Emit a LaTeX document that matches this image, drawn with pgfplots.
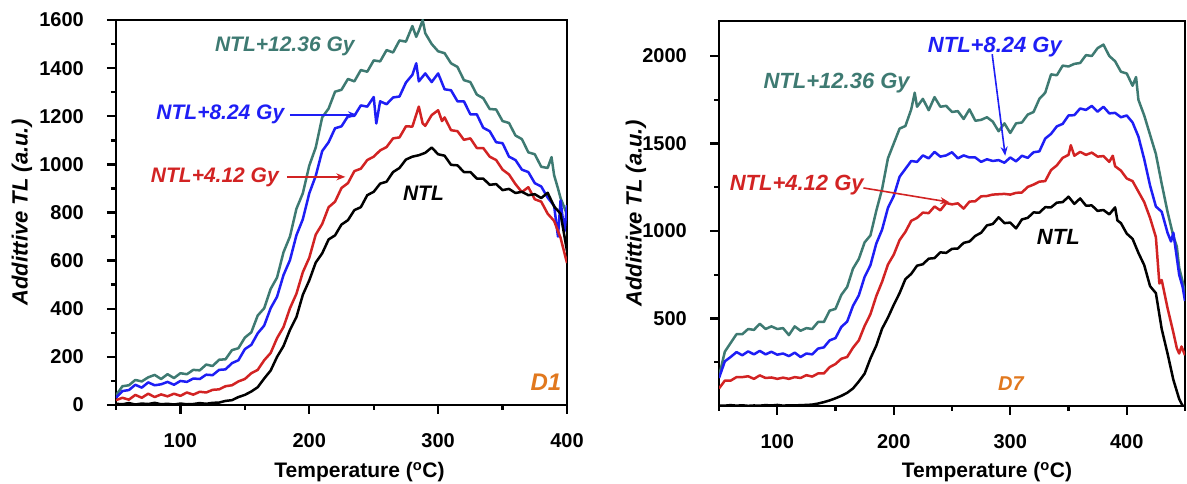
\documentclass[border=0pt]{standalone}
\usepackage{fontspec}
\setmainfont{Liberation Sans}
\usepackage{pgfplots}
\pgfplotsset{compat=1.18}
\usetikzlibrary{arrows.meta}
\definecolor{cteal}{RGB}{62,122,114}
\definecolor{cblue}{RGB}{30,30,245}
\definecolor{cred}{RGB}{210,35,35}
\definecolor{corange}{RGB}{225,120,30}
\tikzset{lab/.style={font=\fontsize{21}{24}\selectfont\bfseries\itshape, anchor=center}}
\pgfplotsset{tlaxis/.style={
  scale only axis, clip=true,
  axis line style={line width=2.8pt},
  tick align=outside, xtick pos=left, ytick pos=left,
  major tick length=9pt, minor tick length=5pt,
  every tick/.style={black, line width=2.4pt},
  tick label style={font=\fontsize{20}{24}\selectfont\bfseries},
  /pgf/number format/assume math mode=true,
  /pgf/number format/set thousands separator={},
  xticklabel style={anchor=center, inner sep=0pt, yshift=-27pt},
  yticklabel style={anchor=east, inner sep=0pt, xshift=-23pt},
  xlabel style={font=\fontsize{21}{24}\selectfont\bfseries, anchor=center},
  ylabel style={font=\fontsize{22}{26}\selectfont\bfseries\itshape, anchor=center},
  every axis plot/.append style={line width=2.5pt, no markers, line join=round},
}}
\begin{document}
\begin{tikzpicture}[x=1pt,y=1pt]
\path[use as bounding box] (0,0) rectangle (1187,484);
% ---------------- Left panel (D1)
\begin{axis}[tlaxis, at={(116pt,79pt)}, anchor=south west,
  width=451pt, height=385pt,
  xmin=50, xmax=400, ymin=0, ymax=1600,
  xtick={100,200,300,400}, minor xtick={50,150,250,350},
  ytick={0,200,...,1600}, minor ytick={100,300,...,1500},
  xlabel={Temperature (\textsuperscript{o}C)},
  ylabel={Addittive TL (a.u.)},
  xlabel style={at={([xshift=18pt,yshift=-67pt]axis description cs:0.5,0)}},
  ylabel style={at={([xshift=-94pt]axis description cs:0,0.5)}},
]
\addplot[cteal] table {
50 40
55 78
60 82
65 104
70 98
75 115
80 125
85 108
90 128
95 112
100 132
105 128
110 146
115 144
120 168
125 162
130 188
135 190
140 228
145 236
150 280
155 302
160 372
165 402
170 482
175 530
180 635
185 700
190 815
195 880
200 995
205 1070
210 1195
215 1232
220 1302
225 1310
230 1355
235 1345
240 1392
245 1385
250 1432
255 1428
260 1475
265 1465
270 1515
275 1510
280 1575
283 1530
285 1555
288 1600
290 1545
295 1500
300 1470
305 1462
310 1420
315 1405
320 1350
325 1342
330 1290
335 1275
340 1230
345 1228
350 1180
355 1172
360 1120
365 1105
370 1050
375 1042
380 990
385 985
388 1030
390 955
393 900
395 860
398 820
400 790
};
\addplot[cblue] table {
50 30
55 58
60 62
65 84
70 72
75 94
80 82
85 86
90 96
95 84
100 100
105 96
110 110
115 108
120 126
125 124
130 146
135 148
140 174
145 186
150 232
155 250
160 298
165 330
170 402
175 450
180 540
185 602
190 705
195 772
200 880
205 952
210 1055
215 1092
220 1150
225 1158
230 1200
235 1202
240 1245
245 1240
250 1280
252 1170
255 1262
260 1250
265 1278
270 1282
275 1340
280 1372
283 1420
285 1345
290 1378
295 1342
300 1378
305 1312
310 1308
315 1262
320 1262
325 1208
330 1208
335 1152
340 1138
345 1092
350 1088
355 1032
360 1018
365 978
370 968
375 922
380 908
385 862
390 828
393 700
395 850
398 720
400 830
};
\addplot[cred] table {
50 20
55 30
60 22
65 42
70 30
75 47
80 33
85 44
90 36
95 47
100 38
105 52
110 43
115 55
120 52
125 63
130 65
135 78
140 82
145 98
150 108
155 132
160 146
165 186
170 216
175 278
180 324
185 402
190 462
195 552
200 612
205 708
210 752
215 822
220 845
225 902
230 922
235 972
240 982
245 1018
250 1032
255 1058
260 1072
265 1108
270 1112
275 1158
280 1157
285 1240
288 1170
290 1160
295 1205
300 1225
303 1180
305 1195
310 1142
315 1138
320 1102
325 1108
330 1068
335 1068
340 1032
345 1018
350 978
355 958
360 918
365 885
370 905
375 855
380 845
385 795
390 765
395 695
400 590
};
\addplot[black] table {
50 5
55 3
60 8
65 2
70 6
75 4
80 9
85 3
90 5
95 2
100 6
105 3
110 4
115 8
120 5
125 9
130 10
135 17
140 20
145 33
150 42
155 56
160 74
165 110
170 143
175 200
180 245
185 312
190 365
195 458
200 518
205 592
210 630
215 688
220 705
225 750
230 768
235 810
240 822
245 872
250 886
255 920
260 928
265 968
270 985
275 1020
280 1032
285 1038
290 1048
295 1070
300 1042
305 1036
310 998
315 996
320 968
325 968
330 941
335 941
340 915
345 918
350 893
355 898
360 881
365 886
370 872
375 876
380 860
385 882
390 825
395 795
400 640
};
\node[lab, text=cteal] at (axis cs:181,1489) {NTL+12.36 Gy};
\node[lab, text=cblue] at (axis cs:131,1206) {NTL+8.24 Gy};
\draw[cblue, line width=1.6pt, -{Stealth[length=9pt,width=7pt]}] (axis cs:185,1206) -- (axis cs:237,1206);
\node[lab, text=cred] at (axis cs:126.7,944) {NTL+4.12 Gy};
\draw[cred, line width=1.6pt, -{Stealth[length=9pt,width=7pt]}] (axis cs:182.6,948) -- (axis cs:228,948);
\node[lab, text=black] at (axis cs:288.6,881) {NTL};
\node[lab, text=corange, font=\fontsize{24}{28}\selectfont\bfseries\itshape] at (axis cs:383.6,94) {D1};
\end{axis}
% ---------------- Right panel (D7)
\begin{axis}[tlaxis, at={(719pt,78pt)}, anchor=south west,
  width=466pt, height=385pt,
  xmin=50, xmax=450, ymin=0, ymax=2200,
  xtick={100,200,300,400}, minor xtick={50,150,250,350,450},
  ytick={500,1000,1500,2000}, minor ytick={250,750,1250,1750},
  xlabel={Temperature (\textsuperscript{o}C)},
  ylabel={Addittive TL (a.u.)},
  xlabel style={at={([xshift=35pt,yshift=-66pt]axis description cs:0.5,0)}},
  ylabel style={at={([xshift=-83pt]axis description cs:0,0.5)}},
]
\addplot[cteal] table {
50 170
55 310
60 360
65 410
70 410
75 440
80 435
85 470
90 440
95 455
100 440
105 445
110 405
115 455
120 430
125 445
130 440
135 480
140 480
145 545
150 555
155 635
160 680
165 785
170 840
175 935
180 975
185 1115
190 1240
195 1415
200 1500
205 1585
210 1600
215 1695
218 1790
220 1710
225 1755
230 1690
235 1765
240 1710
245 1715
250 1680
255 1685
260 1640
265 1695
270 1630
275 1635
280 1650
285 1625
290 1570
295 1615
300 1560
305 1615
310 1620
315 1665
320 1680
325 1755
330 1790
335 1895
340 1890
345 1945
350 1940
355 1955
360 1960
365 2005
370 2000
375 2045
380 2065
385 2000
390 1970
395 1910
400 1900
405 1830
408 1880
410 1750
415 1660
420 1550
425 1440
430 1270
435 1110
440 970
443 910
445 790
448 710
450 640
};
\addplot[cblue] table {
50 160
55 255
60 280
65 308
70 290
75 312
80 295
85 315
90 295
95 310
100 293
105 300
110 285
115 305
120 280
125 300
130 295
135 328
140 335
145 375
150 388
155 452
160 482
165 572
170 632
175 738
180 805
185 928
190 1008
195 1132
200 1200
205 1310
210 1355
215 1400
220 1395
225 1432
230 1415
235 1452
240 1425
245 1432
250 1450
255 1415
260 1432
265 1420
270 1420
275 1395
280 1410
285 1400
290 1405
295 1390
300 1420
305 1398
310 1430
315 1418
320 1450
325 1455
330 1528
335 1555
340 1598
345 1612
350 1660
355 1662
360 1700
365 1692
370 1715
375 1682
380 1710
385 1672
390 1675
395 1650
400 1660
405 1620
410 1540
415 1410
420 1260
425 1140
430 1110
435 990
438 940
440 990
445 750
448 680
450 600
};
\addplot[cred] table {
50 100
55 145
60 145
65 165
70 165
75 170
80 155
85 175
90 160
95 163
100 155
105 162
110 155
115 165
120 160
125 176
130 168
135 186
140 186
145 222
150 240
155 270
160 280
165 333
170 375
175 458
180 525
185 628
190 710
195 808
200 865
205 948
210 995
215 1058
220 1075
225 1105
230 1102
235 1140
240 1118
245 1160
250 1152
255 1158
260 1128
265 1168
270 1170
275 1198
280 1200
285 1208
290 1210
295 1212
300 1208
305 1218
310 1220
315 1252
320 1265
325 1282
330 1285
335 1348
340 1375
345 1418
350 1435
352 1490
355 1430
360 1452
365 1435
370 1448
375 1425
380 1428
385 1395
388 1430
390 1370
395 1345
400 1300
405 1285
410 1225
415 1165
420 1075
425 965
428 700
430 720
435 560
440 420
443 330
445 300
447 340
450 290
};
\addplot[black] table {
50 3
55 2
60 5
65 2
70 4
75 1
80 3
85 2
90 5
95 3
100 6
105 2
110 4
115 3
120 5
125 6
130 8
135 14
140 22
145 32
150 44
155 58
160 75
165 100
170 140
175 185
180 272
185 345
190 442
195 505
200 578
205 645
210 725
215 755
220 802
225 810
230 842
235 845
240 878
245 875
250 898
255 900
260 932
265 940
270 972
275 990
280 1032
285 1040
290 1078
295 1045
300 1048
305 1015
310 1066
315 1075
320 1106
325 1105
330 1136
335 1135
340 1162
345 1165
350 1196
355 1155
360 1186
365 1145
370 1146
375 1115
380 1120
385 1095
390 1135
392 1060
395 1045
400 985
405 955
410 875
415 805
420 685
425 645
430 440
435 300
440 150
445 40
448 0
450 0
};
\node[lab, text=cteal, font=\fontsize{22}{26}\selectfont\bfseries\itshape] at (axis cs:151,1843) {NTL+12.36 Gy};
\node[lab, text=cblue, font=\fontsize{22}{26}\selectfont\bfseries\itshape] at (axis cs:286.8,2048) {NTL+8.24 Gy};
\draw[cblue, line width=1.6pt, -{Stealth[length=9pt,width=7pt]}] (axis cs:284.5,2010) -- (axis cs:295.7,1430);
\node[lab, text=cred, font=\fontsize{22}{26}\selectfont\bfseries\itshape] at (axis cs:116.7,1265) {NTL+4.12 Gy};
\draw[cred, line width=1.6pt, -{Stealth[length=9pt,width=7pt]}] (axis cs:174,1246) -- (axis cs:247.6,1165);
\node[lab, text=black, font=\fontsize{22}{26}\selectfont\bfseries\itshape] at (axis cs:341.3,965) {NTL};
\node[lab, text=corange, font=\fontsize{20}{24}\selectfont\bfseries\itshape] at (axis cs:300.6,130) {D7};
\end{axis}
\end{tikzpicture}
\end{document}
